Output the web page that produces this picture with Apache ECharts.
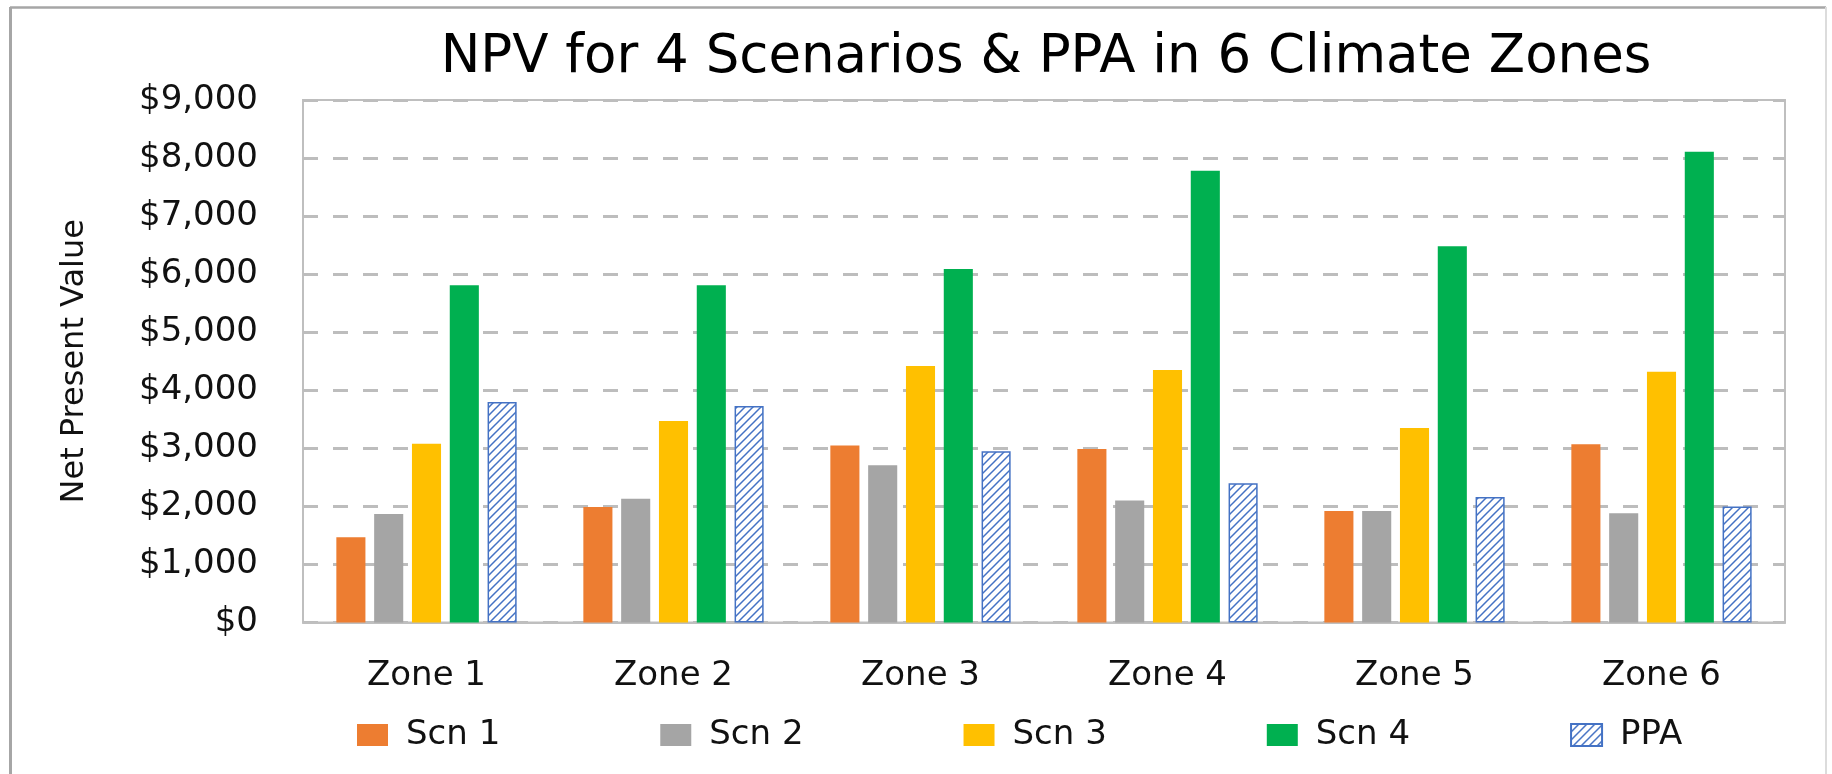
<!DOCTYPE html>
<html>
<head>
<meta charset="utf-8">
<script src="https://cdn.jsdelivr.net/npm/echarts@6/dist/echarts.min.js"></script>
<style>
html,body{margin:0;padding:0;background:#fff;}
#chart{width:1832px;height:774px;}
</style>
</head>
<body>
<div id="chart"></div>
<script>
const titleText = 'NPV for 4 Scenarios & PPA in 6 Climate Zones';
const yAxisName = 'Net Present Value';
const zones = ['Zone 1', 'Zone 2', 'Zone 3', 'Zone 4', 'Zone 5', 'Zone 6'];
const seriesNames = ['Scn 1', 'Scn 2', 'Scn 3', 'Scn 4', 'PPA'];
const scn1 = [1470, 1990, 3050, 2990, 1920, 3070];
const scn2 = [1870, 2130, 2710, 2100, 1920, 1880];
const scn3 = [3080, 3470, 4420, 4350, 3350, 4320];
const scn4 = [5810, 5810, 6090, 7780, 6480, 8110];
const ppa  = [3800, 3730, 2950, 2400, 2160, 2000];
const yMin = 0, yMax = 9000, yStep = 1000;

const FONT = '"DejaVu Sans", Verdana, sans-serif';

// hatch pattern for PPA
const pc = document.createElement('canvas');
pc.width = 8; pc.height = 8;
const pctx = pc.getContext('2d');
pctx.fillStyle = '#ffffff';
pctx.fillRect(0, 0, 8, 8);
pctx.strokeStyle = '#4472C4';
pctx.lineWidth = 1.5;
pctx.beginPath();
pctx.moveTo(0, 8); pctx.lineTo(8, 0);
pctx.moveTo(-2, 2); pctx.lineTo(2, -2);
pctx.moveTo(6, 10); pctx.lineTo(10, 6);
pctx.stroke();
const hatch = { image: pc, repeat: 'repeat' };

const colors = ['#ED7D31', '#A5A5A5', '#FFC000', '#00B050'];
const values = [scn1, scn2, scn3, scn4, ppa];

const series = values.map((v, i) => ({
  name: seriesNames[i],
  type: 'bar',
  data: v,
  barGap: '30%',
  barCategoryGap: '27%',
  itemStyle: i < 4 ? { color: colors[i] } : { color: hatch, borderColor: '#4472C4', borderWidth: 1.5 }
}));

const chart = echarts.init(document.getElementById('chart'), null, { renderer: 'canvas' });
chart.setOption({
  animation: false,
  backgroundColor: '#ffffff',
  title: {
    text: titleText,
    left: 1046,
    textAlign: 'center',
    top: 32,
    padding: 0,
    textStyle: { fontFamily: FONT, fontSize: 53, fontWeight: 'normal', color: '#000000' }
  },
  grid: {
    left: 303, right: 47, top: 100, bottom: 151.5,
    show: true, borderColor: '#bfbfbf', borderWidth: 2, backgroundColor: 'transparent'
  },
  legend: {
    data: seriesNames,
    left: 357,
    top: 718,
    padding: 0,
    itemWidth: 31,
    itemHeight: 22,
    itemGap: 160,
    icon: 'rect',
    textStyle: { fontFamily: FONT, fontSize: 34, color: '#111111', padding: [0, 0, 0, 13] }
  },
  xAxis: {
    type: 'category',
    data: zones,
    axisLine: { show: true, lineStyle: { color: '#bfbfbf', width: 2 } },
    axisTick: { show: false },
    axisLabel: { fontFamily: FONT, fontSize: 34, color: '#111111', margin: 37 }
  },
  yAxis: {
    type: 'value',
    min: yMin, max: yMax, interval: yStep,
    name: yAxisName,
    nameLocation: 'middle',
    nameRotate: 90,
    nameGap: 212,
    nameTextStyle: { fontFamily: FONT, fontSize: 32, color: '#111111' },
    axisLine: { show: false },
    axisTick: { show: false },
    axisLabel: {
      fontFamily: FONT, fontSize: 34, color: '#111111', margin: 45,
      formatter: v => '$' + v.toLocaleString('en-US')
    },
    splitLine: { show: true, lineStyle: { color: '#bdbdbd', width: 3, type: [15, 15] } }
  },
  graphic: [
    { type: 'line', shape: { x1: 10, y1: 7.5, x2: 1826, y2: 7.5 }, style: { stroke: '#a6a6a6', lineWidth: 2.5 }, silent: true },
    { type: 'line', shape: { x1: 10.5, y1: 7, x2: 10.5, y2: 774 }, style: { stroke: '#a6a6a6', lineWidth: 3 }, silent: true },
    { type: 'line', shape: { x1: 1826, y1: 7, x2: 1826, y2: 774 }, style: { stroke: '#dcdcdc', lineWidth: 2 }, silent: true }
  ],
  series: series
});
</script>
</body>
</html>
